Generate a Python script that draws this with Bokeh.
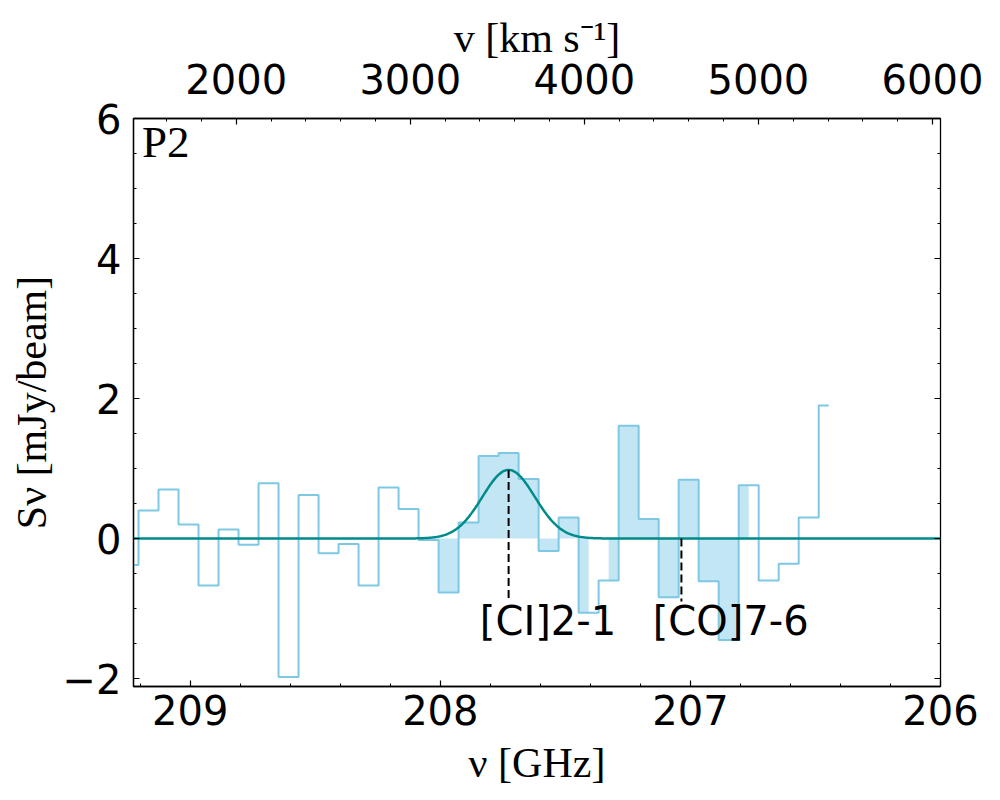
import numpy as np
from bokeh.plotting import figure
from bokeh.models import Range1d, LinearAxis, SingleIntervalTicker, Label, CustomJSTickFormatter
from bokeh.embed import file_html
from bokeh.resources import INLINE
from bokeh.core.properties import value

# ---------------- data ----------------
freq_ghz = [209.247, 209.167, 209.087, 209.007, 208.927, 208.847, 208.767, 208.687,
            208.607, 208.527, 208.447, 208.367, 208.287, 208.207, 208.127, 208.047,
            207.967, 207.887, 207.807, 207.727, 207.647, 207.567, 207.487, 207.407,
            207.327, 207.247, 207.167, 207.087, 207.007, 206.927, 206.847, 206.767,
            206.687, 206.607, 206.527, 206.447]
flux_mjy = [-0.38, 0.40, 0.70, 0.20, -0.67, 0.13, -0.09, 0.79,
            -1.98, 0.62, -0.21, -0.08, -0.67, 0.73, 0.42, -0.02,
            -0.77, 0.23, 1.18, 1.22, 0.85, -0.18, 0.30, -1.06,
            -0.60, 1.61, 0.28, -0.84, 0.84, -0.61, -1.45, 0.76,
            -0.60, -0.36, 0.30, 1.90]
# shaded channel ranges (first and last channel centre, GHz)
fill_ranges_ghz = [(208.047, 207.407), (207.327, 206.767)]

gauss_amp = 0.98
gauss_center = 207.727
gauss_sigma = 0.105

line_names = ["[CI]2-1", "[CO]7-6"]
line_freqs = [207.727, 207.036]
line_bottom = -0.9
label_offset = 0.115
label_y = -1.18

panel_name = "P2"
freq_lim = (209.227, 206.0)
flux_lim = (-2.114, 6.0)
vel_lim = (1410.0, 6046.0)
y_major = [-2, 0, 2, 4, 6]
y_minor = [-1.5, -1, -0.5, 0.5, 1, 1.5, 2.5, 3, 3.5, 4.5, 5, 5.5]

# ---------------- figure ----------------
p = figure(width=1000, height=800, output_backend="svg", toolbar_location=None,
           x_range=Range1d(*freq_lim), y_range=Range1d(*flux_lim),
           min_border_left=133, min_border_right=60, min_border_top=118,
           min_border_bottom=114)
p.extra_x_ranges = {"vel": Range1d(*vel_lim)}
p.xgrid.visible = False
p.ygrid.visible = False
p.outline_line_color = "black"
p.outline_line_width = 1.3
p.background_fill_color = "white"
p.border_fill_color = "white"

sky = "#87ceeb"

# shaded regions (mid-step)
fx = np.array(freq_ghz)
fy = np.array(flux_mjy)
for (a, b) in fill_ranges_ghz:
    m = (fx <= a + 1e-6) & (fx >= b - 1e-6)
    x = fx[m]
    y = fy[m]
    mids = (x[:-1] + x[1:]) / 2
    xs = np.empty(2 * len(x))
    ys = np.empty(2 * len(x))
    xs[0] = x[0]
    xs[-1] = x[-1]
    xs[1:-1:2] = mids
    xs[2:-1:2] = mids
    ys[0::2] = y
    ys[1::2] = y
    p.varea(x=xs, y1=np.zeros_like(xs), y2=ys, fill_color=sky, fill_alpha=0.5)

p.step(x=freq_ghz, y=flux_mjy, mode="center", line_color="#7ec8e3", line_width=2)

# gaussian model
gx = np.linspace(freq_lim[1], freq_lim[0] + 0.05, 800)
gy = gauss_amp * np.exp(-0.5 * ((gx - gauss_center) / gauss_sigma) ** 2)
p.line(gx, gy, line_color="#008b8b", line_width=2.5)

lf = np.array(line_freqs)
ltop = gauss_amp * np.exp(-0.5 * ((lf - gauss_center) / gauss_sigma) ** 2)
p.segment(x0=lf, y0=ltop, x1=lf, y1=[line_bottom] * len(lf), line_color="black",
          line_width=2, line_dash="8 4")
p.text(x=list(lf + label_offset), y=[label_y] * len(lf), text=line_names,
       text_font=value("DejaVu Sans"), text_font_size="40px", text_color="black",
       text_align="left", text_baseline="middle")

# panel label
p.add_layout(Label(x=209.193, y=5.671, text=panel_name, text_font="Liberation Serif",
                   text_font_size="45px", text_color="black", text_align="left",
                   text_baseline="middle"))

# right-hand tick marks (mirrored y ticks, inside the frame)
p.scatter(x=[freq_lim[1]] * len(y_major), y=y_major, marker="dash", size=12,
          line_color="black", line_width=1.2)
p.scatter(x=[freq_lim[1]] * len(y_minor), y=y_minor, marker="dash", size=6,
          line_color="black", line_width=1)

# ---------------- axes ----------------
bottom = p.below[0]
left = p.left[0]
top = LinearAxis(x_range_name="vel", ticker=SingleIntervalTicker(interval=1000, num_minor_ticks=5))
p.add_layout(top, "above")

bottom.ticker = SingleIntervalTicker(interval=1, num_minor_ticks=5)
left.ticker = SingleIntervalTicker(interval=2, num_minor_ticks=4)
left.formatter = CustomJSTickFormatter(
    code="return (tick < 0 ? '\u2212' + Math.abs(tick) : '' + tick);")

for ax in [bottom, left, top]:
    ax.major_tick_in = 6
    ax.major_tick_out = 0
    ax.minor_tick_in = 3
    ax.minor_tick_out = 0
    ax.axis_line_color = "black"
    ax.axis_line_width = 1.3
    ax.major_tick_line_color = "black"
    ax.minor_tick_line_color = "black"
    ax.major_tick_line_width = 1.2
    ax.minor_tick_line_width = 1
    ax.major_label_text_font = "DejaVu Sans"
    ax.major_label_text_font_size = "40px"
    ax.major_label_text_color = "black"
    ax.axis_label_text_font = "Liberation Serif"
    ax.axis_label_text_font_size = "42px"
    ax.axis_label_text_font_style = "normal"
    ax.axis_label_text_color = "black"

bottom.major_label_standoff = 8
bottom.axis_label = "ν [GHz]"
bottom.axis_label_standoff = 12
left.major_label_standoff = 12
left.axis_label = "Sν [mJy/beam]"
left.axis_label_standoff = 5
top.major_label_standoff = 25
top.axis_label = "v [km s⁻¹]"
top.axis_label_standoff = 0

open("out.html", "w").write(file_html(p, INLINE))
